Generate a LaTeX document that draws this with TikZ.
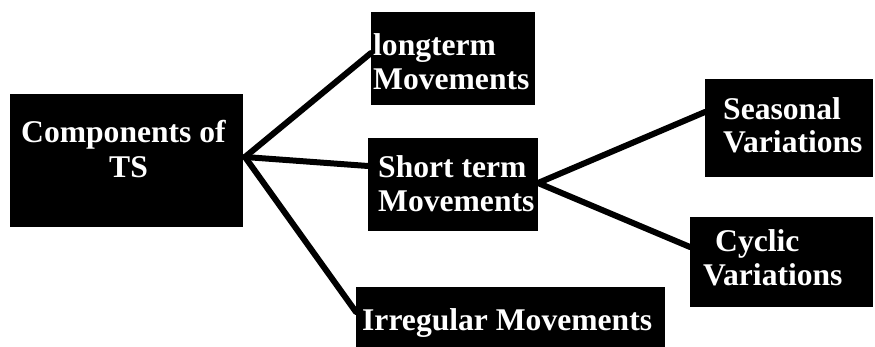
\documentclass[tikz,border=0pt]{standalone}
\usepackage{fontspec}
\setmainfont{Liberation Serif}
\begin{document}
\begin{tikzpicture}[x=1pt,y=-1pt,
  box/.style={rectangle, fill=black, draw=none, inner sep=0pt, outer sep=0pt, anchor=north west},
  lbl/.style={text=white, font=\fontsize{31.6}{35}\selectfont\bfseries, inner sep=0pt, anchor=base west},
  conn/.style={line width=6pt, line cap=round}]
\useasboundingbox (0,0) rectangle (875,347);
% boxes
\node[box, minimum width=233pt, minimum height=133pt] (comp) at (10,94) {};
\node[box, minimum width=164pt, minimum height=93pt] (long) at (371,12) {};
\node[box, minimum width=170pt, minimum height=93pt] (short) at (368,138) {};
\node[box, minimum width=309pt, minimum height=60pt] (irr) at (356,287) {};
\node[box, minimum width=168pt, minimum height=98pt] (seas) at (705,79) {};
\node[box, minimum width=183pt, minimum height=90pt] (cyc) at (690,217) {};
% anchor points
\coordinate (hub) at (245,157);
\coordinate (hub2) at (538,183);
% connectors
\draw[conn] (hub) -- (long.north west |- 0,53);
\draw[conn] (hub) -- (short.north west |- 0,166);
\draw[conn] (hub) -- (irr.north west |- 0,312);
\draw[conn] (hub2) -- (seas.north west |- 0,112);
\draw[conn] (hub2) -- (cyc.north west |- 0,247);
% labels
\node[lbl] (t1) at (21,143) {Components of};
\node[lbl] (t2) at (109,178) {TS};
\node[lbl] (t3) at (373,56) {longterm};
\node[lbl] (t4) at (373,90) {Movements};
\node[lbl] (t5) at (378,178) {Short term};
\node[lbl] (t6) at (378,212) {Movements};
\node[lbl] (t7) at (362,330) {Irregular Movements};
\node[lbl] (t8) at (723,120) {Seasonal};
\node[lbl] (t9) at (723,153) {Variations};
\node[lbl] (t10) at (715,252) {Cyclic};
\node[lbl] (t11) at (703,285) {Variations};
\end{tikzpicture}
\end{document}
